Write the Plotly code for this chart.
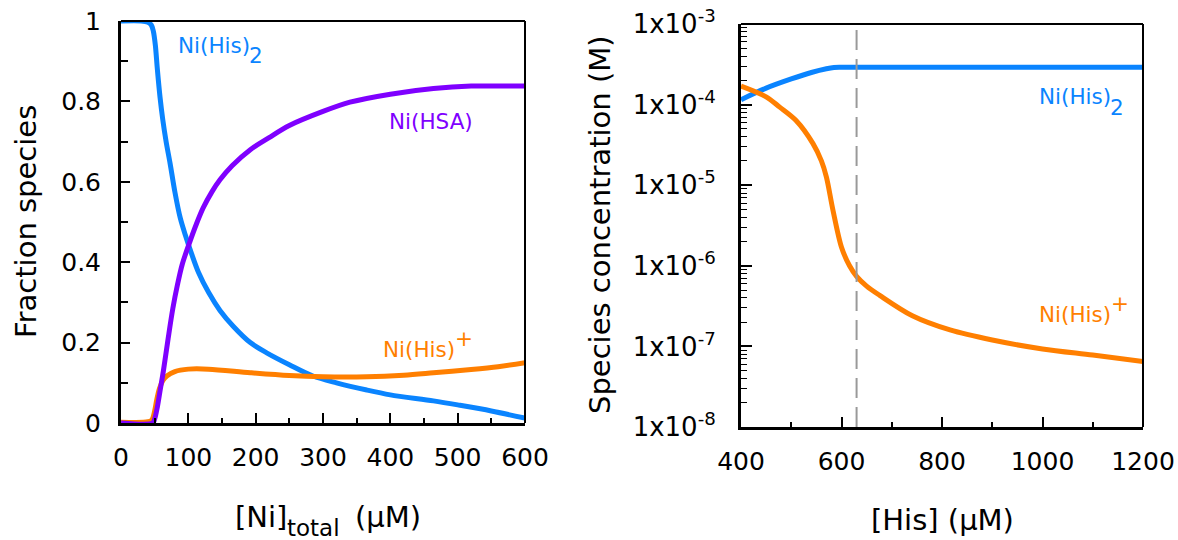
import plotly.graph_objects as go

# ---------- Left panel data: fraction species vs [Ni]total (uM) ----------
ni_his2_x = [0, 30, 40, 45, 48, 51, 54, 58, 62, 67, 73, 80, 88, 96, 105, 115, 130, 147, 167, 192, 217, 250, 285, 320, 365, 400, 464, 500, 550, 600]
ni_his2_y = [1.0, 1.0, 0.997, 0.99, 0.975, 0.94, 0.88, 0.81, 0.755, 0.70, 0.645, 0.575, 0.51, 0.465, 0.42, 0.375, 0.325, 0.28, 0.24, 0.20, 0.174, 0.145, 0.117, 0.10, 0.082, 0.07, 0.055, 0.045, 0.03, 0.012]

ni_hsa_x = [0, 47, 50, 54, 58, 63, 70, 77, 84, 91, 101, 112, 122, 135, 147, 165, 192, 220, 250, 300, 340, 400, 464, 520, 600]
ni_hsa_y = [0.0, 0.0, 0.01, 0.04, 0.08, 0.13, 0.21, 0.285, 0.345, 0.395, 0.445, 0.495, 0.535, 0.575, 0.605, 0.64, 0.68, 0.71, 0.74, 0.775, 0.798, 0.818, 0.832, 0.838, 0.838]

ni_his_x = [0, 40, 46, 50, 53, 57, 62, 68, 80, 100, 130, 192, 250, 300, 365, 420, 464, 520, 560, 600]
ni_his_y = [0.002, 0.003, 0.008, 0.03, 0.057, 0.085, 0.105, 0.117, 0.128, 0.134, 0.134, 0.125, 0.118, 0.115, 0.115, 0.119, 0.125, 0.133, 0.14, 0.15]

# ---------- Right panel data: species concentration (M) vs [His] (uM) ----------
r_his2_x = [400, 450, 500, 540, 570, 585, 600, 800, 1000, 1200]
r_his2_y = [1.15e-4, 1.6e-4, 2.08e-4, 2.5e-4, 2.78e-4, 2.88e-4, 2.9e-4, 2.9e-4, 2.9e-4, 2.9e-4]

r_his_x = [400, 450, 477, 510, 543, 560, 570, 583, 600, 616, 630, 650, 676, 741, 816, 900, 1000, 1100, 1200]
r_his_y = [1.7e-4, 1.25e-4, 9.3e-5, 6.3e-5, 3.3e-5, 2.0e-5, 1.26e-5, 4.9e-6, 1.7e-6, 1.0e-6, 7.4e-7, 5.6e-7, 4.3e-7, 2.4e-7, 1.6e-7, 1.2e-7, 9.3e-8, 7.8e-8, 6.5e-8]

his_marker = 630

left_xticks = [0, 100, 200, 300, 400, 500, 600]
left_yticks = [0, 0.2, 0.4, 0.6, 0.8, 1]
left_yticktext = ["0", "0.2", "0.4", "0.6", "0.8", "1"]
right_xticks = [400, 600, 800, 1000, 1200]
right_exps = [-8, -7, -6, -5, -4, -3]

BLUE = "#0a84ff"
PURPLE = "#7f00ff"
ORANGE = "#ff7f00"
FONT = "DejaVu Sans"

def line(color):
    return dict(color=color, width=5, shape="spline", smoothing=0.9)

fig = go.Figure()
fig.add_trace(go.Scatter(x=ni_his2_x, y=ni_his2_y, mode="lines", line=line(BLUE), xaxis="x", yaxis="y"))
fig.add_trace(go.Scatter(x=ni_his_x, y=ni_his_y, mode="lines", line=line(ORANGE), xaxis="x", yaxis="y"))
fig.add_trace(go.Scatter(x=ni_hsa_x, y=ni_hsa_y, mode="lines", line=line(PURPLE), xaxis="x", yaxis="y"))

fig.add_trace(go.Scatter(x=r_his2_x, y=r_his2_y, mode="lines", line=line(BLUE), xaxis="x2", yaxis="y2"))
fig.add_trace(go.Scatter(x=r_his_x, y=r_his_y, mode="lines", line=line(ORANGE), xaxis="x2", yaxis="y2"))

W, H = 1178, 540
def dx(px):
    return px / W
def dy(py):
    return 1 - py / H

axis_common = dict(showgrid=False, zeroline=False, showline=True, linecolor="black", linewidth=3,
                   ticks="inside", tickcolor="black", tickwidth=1.5, automargin=False)

fig.update_layout(
    width=W, height=H, margin=dict(l=0, r=0, t=0, b=0, autoexpand=False),
    paper_bgcolor="white", plot_bgcolor="white", showlegend=False,
    font=dict(family=FONT, color="black"),
    xaxis=dict(domain=[dx(121), dx(525)], range=[0, 600], anchor="y",
               tickvals=left_xticks, ticklen=10, ticklabelstandoff=10,
               tickfont=dict(family=FONT, size=25, color="black"),
               minor=dict(ticks="inside", dtick=50, ticklen=5, tickcolor="black", tickwidth=1.5),
               **axis_common),
    yaxis=dict(domain=[dy(423), dy(21)], range=[0, 1], anchor="x",
               tickvals=left_yticks, ticktext=left_yticktext, ticklen=9, ticklabelstandoff=12,
               tickfont=dict(family=FONT, size=25, color="black"),
               minor=dict(ticks="inside", dtick=0.1, ticklen=7, tickcolor="black", tickwidth=1.5),
               **axis_common),
    xaxis2=dict(domain=[dx(741), dx(1143)], range=[400, 1200], anchor="y2",
                tickvals=right_xticks, ticklen=10, ticklabelstandoff=10,
                tickfont=dict(family=FONT, size=25, color="black"),
                minor=dict(ticks="inside", dtick=100, ticklen=5, tickcolor="black", tickwidth=1.5),
                **axis_common),
    yaxis2=dict(domain=[dy(427), dy(24)], type="log", range=[-8, -3], anchor="x2",
                tickvals=[10.0 ** e for e in right_exps],
                ticktext=["1x10<sup>%d</sup>" % e for e in right_exps],
                ticklen=11, ticklabelstandoff=17,
                tickfont=dict(family=FONT, size=26, color="black"),
                minor=dict(ticks="inside", dtick="D1", ticklen=6, tickcolor="black", tickwidth=1.2),
                **axis_common),
)

# top/right frame lines (thinner)
for xr, yr in (("x", "y"), ("x2", "y2")):
    fig.add_shape(type="line", xref=xr + " domain", yref=yr + " domain", x0=0, x1=1, y0=1, y1=1, line=dict(color="black", width=2))
    fig.add_shape(type="line", xref=xr + " domain", yref=yr + " domain", x0=1, x1=1, y0=0, y1=1, line=dict(color="black", width=2))

# dashed marker line
fig.add_shape(type="line", xref="x2", yref="y2 domain", x0=his_marker, x1=his_marker, y0=0, y1=1,
              line=dict(color="#999999", width=2, dash="20px,9px"))

def txt(px, py, text, color, size=21.5, anchor="left", angle=0):
    fig.add_annotation(x=dx(px), y=dy(py), xref="paper", yref="paper", xanchor=anchor, yanchor="middle",
                       text=text, textangle=angle, font=dict(family=FONT, size=size, color=color),
                       showarrow=False, borderpad=0)

# curve labels (sub/superscripts drawn as separate offset texts, like the reference)
txt(177, 45, "Ni(His)", BLUE)
txt(248, 55, "2", BLUE)
txt(388, 121, "Ni(HSA)", PURPLE)
txt(382, 349, "Ni(His)", ORANGE)
txt(454, 338, "+", ORANGE)
txt(1038, 97, "Ni(His)", BLUE)
txt(1109, 107, "2", BLUE)
txt(1038, 314, "Ni(His)", ORANGE)
txt(1110, 303, "+", ORANGE)

# axis titles
TS = 29
txt(26, 222, "Fraction species", "black", size=TS, anchor="center", angle=-90)
txt(600, 225, "Species concentration (M)", "black", size=TS, anchor="center", angle=-90)
txt(234, 517, "[Ni]", "black", size=TS)
txt(286, 528, "total", "black", size=23)
txt(354, 517, "(µM)", "black", size=TS)
txt(942, 520, "[His] (µM)", "black", size=TS, anchor="center")

fig.write_html("out.html")
